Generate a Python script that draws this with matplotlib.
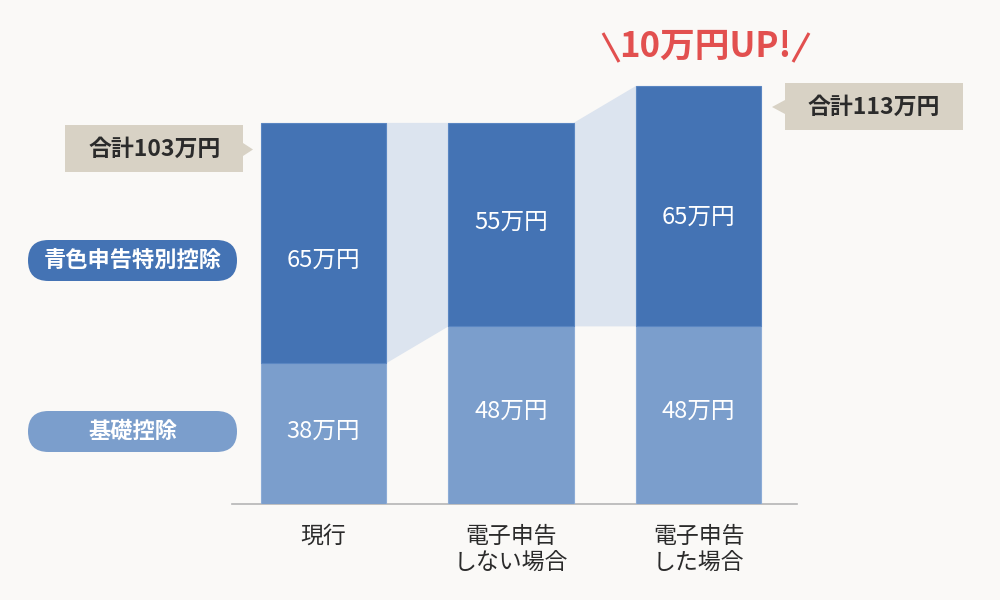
import matplotlib
matplotlib.use('Agg')
import matplotlib.pyplot as plt
from matplotlib.patches import FancyBboxPatch, Polygon
import numpy as np

# ---- data ----
categories = ['現行', '電子申告\nしない場合', '電子申告\nした場合']
basic = [38, 48, 48]          # 基礎控除
blue_special = [65, 55, 65]   # 青色申告特別控除
legend_labels = ['青色申告特別控除', '基礎控除']
headline = '10万円UP!'

plt.rcParams['font.family'] = ['Noto Sans CJK JP', 'DejaVu Sans']

BG = '#faf9f7'
DARK = '#4473b4'
LIGHT = '#7b9ecc'
BAND = '#dce4ef'
TAG = '#d8d2c5'
RED = '#e2504f'
TXT = '#2b2b2b'

fig = plt.figure(figsize=(10, 6), dpi=100, facecolor=BG)
ax = fig.add_axes([0.232, 0.16, 0.565, 0.80])
ax.set_facecolor('none')

x = np.arange(len(categories))
w = 0.667
totals = [b + c for b, c in zip(basic, blue_special)]

ax.bar(x, basic, w, color=LIGHT, edgecolor='#8cacd6', linewidth=0.8, zorder=3)
ax.bar(x, blue_special, w, bottom=basic, color=DARK, edgecolor='#5a86c2',
       linewidth=0.8, zorder=3)

# connector bands between the blue segments
for i in range(len(x) - 1):
    x0 = x[i] + w / 2
    x1 = x[i + 1] - w / 2
    ax.fill([x0, x1, x1, x0], [totals[i], totals[i + 1], basic[i + 1], basic[i]],
            color=BAND, lw=0, zorder=2)

ax.set_xlim(-0.488, 2.525)
ax.set_ylim(0, 480 / 3.7)
for s in ['top', 'right', 'left']:
    ax.spines[s].set_visible(False)
ax.spines['bottom'].set_color('#b5b5b5')
ax.spines['bottom'].set_linewidth(1.2)
ax.set_yticks([])
ax.set_xticks(x)
ax.set_xticklabels(categories, fontsize=16.5, color=TXT, linespacing=1.25)
ax.tick_params(axis='x', length=0, pad=15)

# ---- overlay in pixel coordinates ----
ov = fig.add_axes([0, 0, 1, 1], zorder=5)
ov.set_xlim(0, 1000)
ov.set_ylim(600, 0)
ov.axis('off')
ov.patch.set_alpha(0)

# value labels (x from bar positions, vertical placement as in the original)
dark_label_y = [260, 222, 217]
light_label_y = [431, 411, 411]
for i in range(len(x)):
    xp = ov.transData.inverted().transform(ax.transData.transform((x[i], 0)))[0]
    ov.text(xp, light_label_y[i], f'{basic[i]}万円', color='white', fontsize=17,
            ha='center', va='center')
    ov.text(xp, dark_label_y[i], f'{blue_special[i]}万円', color='white',
            fontsize=17, ha='center', va='center')

# legend pills
for (label, color, yc) in [(legend_labels[0], DARK, 260.5), (legend_labels[1], LIGHT, 431.5)]:
    h = 41
    pill = FancyBboxPatch((28, yc - h / 2), 209, h,
                          boxstyle=f'round,pad=0,rounding_size={h/2}',
                          fc=color, ec='none')
    ov.add_patch(pill)
    ov.text(132.5, yc, label, color='white', fontsize=16, fontweight='bold',
            ha='center', va='center')

# total callouts
c1 = Polygon([(65, 125), (243, 125), (243, 143), (253, 149.5), (243, 156),
              (243, 172), (65, 172)], closed=True, fc=TAG, ec='none')
ov.add_patch(c1)
ov.text(155, 149.5, f'合計{totals[0]}万円', color=TXT, fontsize=16.5, fontweight='bold',
        ha='center', va='center')

c2 = Polygon([(785, 83), (963, 83), (963, 130), (785, 130), (785, 114),
              (772, 107), (785, 100)], closed=True, fc=TAG, ec='none')
ov.add_patch(c2)
ov.text(874, 107.5, f'合計{totals[2]}万円', color=TXT, fontsize=16.5, fontweight='bold',
        ha='center', va='center')

# headline
ov.text(705, 46, headline, color=RED, fontsize=25, fontweight='bold',
        ha='center', va='center')
ov.plot([603, 619], [33, 62], color=RED, lw=2.2, solid_capstyle='butt')
ov.plot([809, 793], [33, 62], color=RED, lw=2.2, solid_capstyle='butt')

fig.savefig('out.png', dpi=100, facecolor=BG)
